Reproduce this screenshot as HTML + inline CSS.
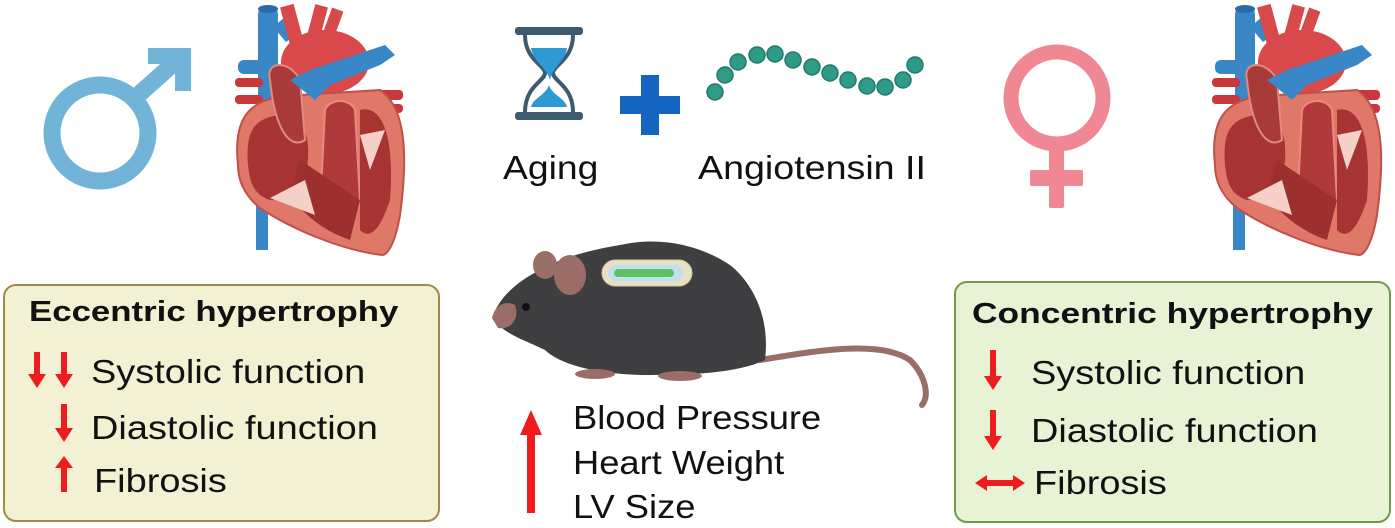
<!DOCTYPE html>
<html><head><meta charset="utf-8"><style>
body{margin:0;width:1395px;height:528px;background:#fff;overflow:hidden;position:relative;font-family:"Liberation Sans",sans-serif;}
.t{position:absolute;white-space:nowrap;color:#111;line-height:1;transform-origin:0 50%;}
.b{font-size:33px;transform:scaleX(1.15);}
.h{font-size:29px;font-weight:bold;transform:scaleX(1.2);}
</style></head><body>
<svg width="1395" height="528" style="position:absolute;left:0;top:0">
<defs>
<g id="heart">
  <rect x="28" y="8" width="20" height="110" rx="6" fill="#3a87c8"/>
  <ellipse cx="38" cy="9" rx="10" ry="4" fill="#2a6ca8"/>
  <rect x="26" y="205" width="12" height="45" fill="#3a87c8"/>
  <rect x="8" y="60" width="30" height="14" rx="6" fill="#3a87c8"/>
  <rect x="5" y="78" width="28" height="9" rx="4" fill="#c9383a"/>
  <rect x="5" y="95" width="28" height="9" rx="4" fill="#c9383a"/>
  <rect x="48" y="20" width="14" height="20" transform="rotate(-40 55 30)" fill="#3a87c8"/>
  <rect x="55" y="5" width="14" height="40" transform="rotate(-15 62 25)" fill="#d8494a"/>
  <rect x="80" y="5" width="13" height="40" transform="rotate(15 86 25)" fill="#d8494a"/>
  <rect x="95" y="8" width="12" height="40" transform="rotate(20 100 28)" fill="#d8494a"/>
  <ellipse cx="95" cy="62" rx="44" ry="32" fill="#d9484a"/>
  <rect x="145" y="90" width="28" height="10" rx="4" fill="#c9383a"/>
  <rect x="148" y="104" width="25" height="9" rx="4" fill="#c9383a"/>
  <path d="M8,165 C3,120 18,100 55,96 L150,90 C180,110 176,170 170,215 C165,245 157,255 152,255 C110,250 60,228 30,208 C14,195 8,180 8,165 Z" fill="#e0786a" stroke="#c0504a" stroke-width="2"/>
  <path d="M18,165 C15,130 25,118 50,115 C70,115 80,130 78,160 C76,185 60,200 40,200 C25,195 20,185 18,165 Z" fill="#a83333"/>
  <path d="M40,80 C35,60 60,60 70,80 L75,140 C60,150 45,130 40,80 Z" fill="#a83a3a" stroke="#e08a80" stroke-width="2"/>
  <path d="M95,110 C100,98 120,98 125,110 L130,200 C110,215 90,200 92,170 Z" fill="#b03a3a" stroke="#e88a80" stroke-width="2"/>
  <path d="M130,110 C150,105 165,130 160,200 C150,230 140,240 130,230 Z" fill="#a83333"/>
  <path d="M70,160 L130,200 L120,240 C90,230 70,210 60,195 Z" fill="#9e2f2f"/>
  <path d="M40,198 L75,180 L85,215 Z" fill="#f4d0c8"/>
  <path d="M130,135 L155,130 L140,170 Z" fill="#f4d0c8"/>
  <path d="M60,80 L80,70 L155,45 L165,55 L150,65 L100,85 L85,100 Z" fill="#3a87c8"/>
</g>
</defs>

<g fill="none" stroke="#72b3d8" stroke-width="17">
  <circle cx="100" cy="133" r="48"/>
  <line x1="136" y1="97" x2="183" y2="55"/>
</g>
<path d="M148,48 L191,48 L191,91 L175,91 L175,64 L148,64 Z" fill="#72b3d8"/>

<circle cx="1057" cy="98" r="46" fill="none" stroke="#f08893" stroke-width="15"/>
<rect x="1049" y="140" width="15" height="68" rx="2" fill="#f08893"/>
<rect x="1030" y="170" width="53" height="16" rx="2" fill="#f08893"/>

<use href="#heart" x="230" y="0"/>
<use href="#heart" x="1207" y="0"/>

<rect x="515" y="27" width="68" height="8" rx="3" fill="#3c5a70"/>
<rect x="515" y="112" width="68" height="8" rx="3" fill="#3c5a70"/>
<path d="M525,35 C525,60 545,65 545,73 C545,81 525,86 525,112 M573,35 C573,60 553,65 553,73 C553,81 573,86 573,112" fill="none" stroke="#3c5a70" stroke-width="4"/>
<path d="M531,48 L567,48 C565,62 553,66 550,80 C546,66 533,62 531,48 Z" fill="#2e9ad4"/>
<path d="M549,85 C552,95 565,98 567,107 L531,107 C533,98 546,95 549,85 Z" fill="#2e9ad4"/>
<rect x="641" y="75" width="18" height="60" fill="#1565c0"/>
<rect x="620" y="96" width="60" height="18" fill="#1565c0"/>
<g fill="#2f9a88" stroke="#1f7a6a" stroke-width="1.5">
<circle cx="715" cy="92" r="8"/><circle cx="725" cy="75" r="8"/><circle cx="738" cy="62" r="8"/><circle cx="757" cy="55" r="8"/><circle cx="775" cy="54" r="8"/><circle cx="793" cy="60" r="8"/><circle cx="812" cy="67" r="8"/><circle cx="830" cy="73" r="8"/><circle cx="848" cy="80" r="8"/><circle cx="867" cy="86" r="8"/><circle cx="885" cy="87" r="8"/><circle cx="903" cy="80" r="8"/><circle cx="915" cy="65" r="8"/>
</g>

<path d="M760,360 C820,350 880,340 910,360 C925,375 930,395 922,405" fill="none" stroke="#9a6e66" stroke-width="6" stroke-linecap="round"/>
<path d="M492,318 C500,295 520,280 540,270 C560,258 590,250 620,245 C660,236 700,245 730,265 C755,285 770,320 765,360 C740,372 700,375 650,375 C600,375 560,365 545,350 C525,340 505,335 492,318 Z" fill="#3f3f42"/>
<ellipse cx="545" cy="265" rx="12" ry="14" fill="#9a6e66"/>
<ellipse cx="570" cy="275" rx="16" ry="20" fill="#9a6e66"/>
<path d="M492,318 C495,305 505,300 515,305 C520,320 510,330 498,328 Z" fill="#9a6e66"/>
<circle cx="526" cy="307" r="4" fill="#111"/>
<ellipse cx="595" cy="374" rx="20" ry="5" fill="#9a6e66"/>
<ellipse cx="680" cy="376" rx="22" ry="5" fill="#9a6e66"/>
<rect x="602" y="260" width="90" height="26" rx="13" fill="#e8e0c0" stroke="#cfc7a5"/>
<rect x="608" y="265" width="75" height="16" rx="8" fill="#bfe0f0"/>
<rect x="614" y="269" width="60" height="8" rx="4" fill="#5dc25d"/>

<rect x="4" y="285" width="435" height="236" rx="12" fill="#f3f1d4" stroke="#a08a45" stroke-width="2"/>
<rect x="955" y="282" width="435" height="240" rx="12" fill="#e8f3d6" stroke="#6f9a4a" stroke-width="2"/>

<g fill="#ee1c1c">
  <path d="M34,352 h6 v22 h6 l-9,14 l-9,-14 h6 z"/>
  <path d="M61,352 h6 v22 h6 l-9,14 l-9,-14 h6 z"/>
  <path d="M61,404 h6 v24 h6 l-9,14 l-9,-14 h6 z"/>
  <path d="M61,492 h6 v-24 h6 l-9,-12 l-9,12 h6 z"/>
  <path d="M990,350 h6 v26 h6 l-9,14 l-9,-14 h6 z"/>
  <path d="M990,410 h6 v26 h6 l-9,14 l-9,-14 h6 z"/>
  <path d="M975,483 l12,-8 v5 h26 v-5 l12,8 l-12,8 v-5 h-26 v5 z"/>
  <path d="M527,513 h8 v-78 h7 l-11,-25 l-11,25 h7 z"/>
</g>
</svg>

<div class="t" style="left:503px;top:151px;font-size:33px;transform:scaleX(1.13)">Aging</div>
<div class="t" style="left:698px;top:151px;font-size:33px;transform:scaleX(1.14)">Angiotensin II</div>

<div class="t h" style="left:29px;top:298px">Eccentric hypertrophy</div>
<div class="t b" style="left:91px;top:355px">Systolic function</div>
<div class="t b" style="left:91px;top:411px">Diastolic function</div>
<div class="t b" style="left:94px;top:464px">Fibrosis</div>

<div class="t h" style="left:972px;top:300px;transform:scaleX(1.22)">Concentric hypertrophy</div>
<div class="t b" style="left:1031px;top:356px">Systolic function</div>
<div class="t b" style="left:1031px;top:414px">Diastolic function</div>
<div class="t b" style="left:1034px;top:466px">Fibrosis</div>

<div class="t b" style="left:573px;top:401px;transform:scaleX(1.1)">Blood Pressure</div>
<div class="t b" style="left:573px;top:446px;transform:scaleX(1.1)">Heart Weight</div>
<div class="t b" style="left:573px;top:490px;transform:scaleX(1.1)">LV Size</div>
</body></html>
